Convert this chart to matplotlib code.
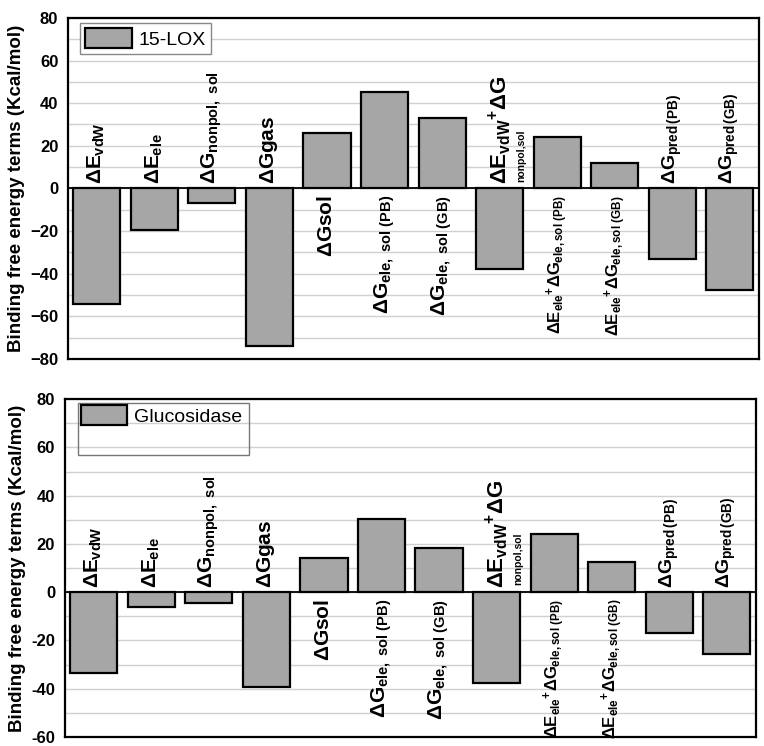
import matplotlib
matplotlib.use("Agg")
import numpy as np
import matplotlib.pyplot as plt
from matplotlib.patches import Rectangle

plt.rcParams["font.family"] = ["Liberation Sans", "DejaVu Sans"]
plt.rcParams["mathtext.fontset"] = "custom"
plt.rcParams["mathtext.rm"] = "Liberation Sans:bold"
plt.rcParams["mathtext.it"] = "Liberation Sans:bold"
plt.rcParams["mathtext.bf"] = "Liberation Sans:bold"

# bar labels (mathtext), one per term
labels = [
    r"$\Delta E_{vdW}$",
    r"$\Delta E_{ele}$",
    r"$\Delta G_{nonpol,\ sol}$",
    r"$\Delta Ggas$",
    r"$\Delta Gsol$",
    r"$\Delta G_{ele,\ sol\ (PB)}$",
    r"$\Delta G_{ele,\ sol\ (GB)}$",
    r"$\Delta E_{vdW}{}^{+}\Delta G$",
    r"$\Delta E_{ele}{}^{+}\Delta G_{ele,sol\ (PB)}$",
    r"$\Delta E_{ele}{}^{+}\Delta G_{ele,sol\ (GB)}$",
    r"$\Delta G_{pred\,(PB)}$",
    r"$\Delta G_{pred\,(GB)}$",
]
label_sizes = [15, 15, 15, 15, 15, 15, 15, 16, 12, 12, 14, 14]

lox_values = [-54.2, -19.6, -6.9, -74.0, 26.0, 45.2, 33.0, -38.0, 24.0, 12.0, -33.0, -47.5]
glu_values = [-33.3, -6.0, -4.4, -39.2, 14.0, 30.2, 18.4, -37.8, 24.3, 12.6, -17.1, -25.6]

lox_ticks = [80, 60, 40, 20, 0, -20, -40, -60, -80]
glu_ticks = [80, 60, 40, 20, 0, -20, -40, -60]


def draw_panel(ax, values, ymin, ymax, ticks, tick_fmt, legend_name, big_frame=False):
    x = np.arange(len(values))
    for g in range(ymin, ymax + 1, 10):
        ax.axhline(g, color="#d0d0d0", lw=1.0, zorder=0)
    ax.bar(x, values, width=0.82, color="#a6a6a6", edgecolor="black",
           linewidth=1.6, zorder=2, label=legend_name)
    ax.axhline(0, color="black", lw=1.3, zorder=3)
    ax.set_xlim(-0.5, len(values) - 0.5)
    ax.set_ylim(ymin, ymax)
    ax.set_xticks([])
    ax.set_yticks(ticks)
    ax.set_yticklabels([tick_fmt(t) for t in ticks], fontsize=12, fontweight="bold")
    ax.tick_params(axis="y", length=0, pad=7)
    for s in ax.spines.values():
        s.set_linewidth(1.6)
    ax.set_ylabel("Binding free energy terms (Kcal/mol)", fontsize=13.5,
                  fontweight="bold", labelpad=4)

    span = ymax - ymin
    for i, (v, lab, fs) in enumerate(zip(values, labels, label_sizes)):
        if v < 0:
            ax.text(i, 0.012 * span, lab, rotation=90, ha="center",
                    va="bottom", fontsize=fs, zorder=4)
        else:
            ax.text(i, -0.02 * span, lab, rotation=90, ha="center",
                    va="top", fontsize=fs, zorder=4)
    # extra subscript of the combined vdW term
    ax.text(7.38, 0.02 * span, "nonpol,sol", rotation=90, ha="center",
            va="bottom", fontsize=7.5, fontweight="bold", zorder=4)

    if big_frame:
        ax.legend(loc="upper left", fontsize=14, handlelength=2.4,
                  handleheight=1.2, borderpad=0.2, handletextpad=0.35,
                  fancybox=False, frameon=False, borderaxespad=0,
                  bbox_to_anchor=(0.017, 0.994))
        ax.add_patch(Rectangle((0.019, 0.835), 0.248, 0.153, transform=ax.transAxes,
                               fill=False, edgecolor="#777777", lw=1.0, zorder=5))
    else:
        leg = ax.legend(loc="upper left", fontsize=14, handlelength=2.4,
                        handleheight=1.15, borderpad=0.28, handletextpad=0.35,
                        fancybox=False, framealpha=1, borderaxespad=0,
                        bbox_to_anchor=(0.017, 0.985))
        leg.get_frame().set_edgecolor("#888888")
        leg.get_frame().set_linewidth(1.0)


fig = plt.figure(figsize=(7.64, 7.46), dpi=100)
ax1 = fig.add_axes([0.089, 0.519, 0.904, 0.457])
ax2 = fig.add_axes([0.085, 0.012, 0.904, 0.453])

draw_panel(ax1, lox_values, -80, 80, lox_ticks, lambda t: str(t).replace("-", "\u2212"), "15-LOX")
draw_panel(ax2, glu_values, -60, 80, glu_ticks, lambda t: str(t), "Glucosidase", big_frame=True)

fig.savefig("out.png", dpi=100)
